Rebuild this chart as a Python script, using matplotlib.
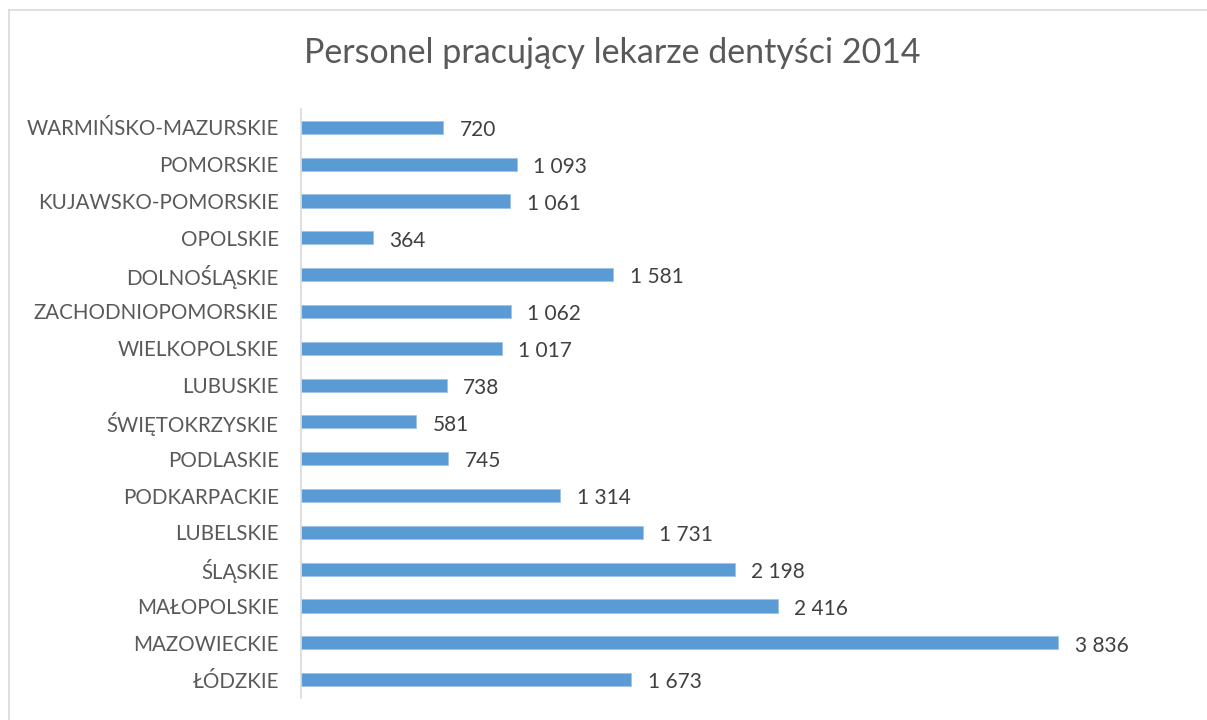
import matplotlib.pyplot as plt
from matplotlib.lines import Line2D

# data, bottom to top as matplotlib draws them
regions = ["ŁÓDZKIE", "MAZOWIECKIE", "MAŁOPOLSKIE", "ŚLĄSKIE", "LUBELSKIE",
           "PODKARPACKIE", "PODLASKIE", "ŚWIĘTOKRZYSKIE", "LUBUSKIE",
           "WIELKOPOLSKIE", "ZACHODNIOPOMORSKIE", "DOLNOŚLĄSKIE", "OPOLSKIE",
           "KUJAWSKO-POMORSKIE", "POMORSKIE", "WARMIŃSKO-MAZURSKIE"]
dentists = [1673, 3836, 2416, 2198, 1731, 1314, 745, 581, 738,
            1017, 1062, 1581, 364, 1061, 1093, 720]

TITLE = "Personel pracujący lekarze dentyści 2014"

plt.rcParams['font.family'] = ['Lato', 'DejaVu Sans']

W, H = 1207, 720
fig = plt.figure(figsize=(W / 100, H / 100), dpi=100)
fig.patch.set_facecolor("white")

# plot area in pixels: left axis at x=301, rows from ~109 to ~698
left, right = 301, 1189
top, bottom = 109, 698
ax = fig.add_axes([left / W, 1 - bottom / H, (right - left) / W, (bottom - top) / H])

y = range(len(regions))
ax.barh(y, dentists, height=0.355, color="#5B9BD5", edgecolor="#9DC3E6", linewidth=0.6)

ax.set_xlim(0, 4500)
ax.set_ylim(-0.5, len(regions) - 0.5)
ax.set_yticks(list(y))
ax.set_yticklabels(regions, fontsize=14.8, color="#595959")
ax.tick_params(axis="y", length=0, pad=16)
ax.set_xticks([])

for s in ["top", "right", "bottom"]:
    ax.spines[s].set_visible(False)
ax.spines["left"].set_color("#D9D9D9")
ax.spines["left"].set_linewidth(1.2)

for yi, v in zip(y, dentists):
    label = f"{v:,}".replace(",", " ")
    ax.annotate(label, (v, yi), xytext=(12, -2), textcoords="offset points",
                va="center", ha="left", fontsize=15, color="#404040")

fig.text(612 / W, 1 - 53 / H, TITLE, ha="center", va="center",
         fontsize=24.5, color="#595959")

# chart frame: only top and left edges visible in the crop
fig.add_artist(Line2D([9 / W, 1.0], [1 - 10 / H, 1 - 10 / H], color="#D9D9D9", lw=1.2))
fig.add_artist(Line2D([9 / W, 9 / W], [0, 1 - 10 / H], color="#D9D9D9", lw=1.2))

fig.savefig("out.png", dpi=100)
